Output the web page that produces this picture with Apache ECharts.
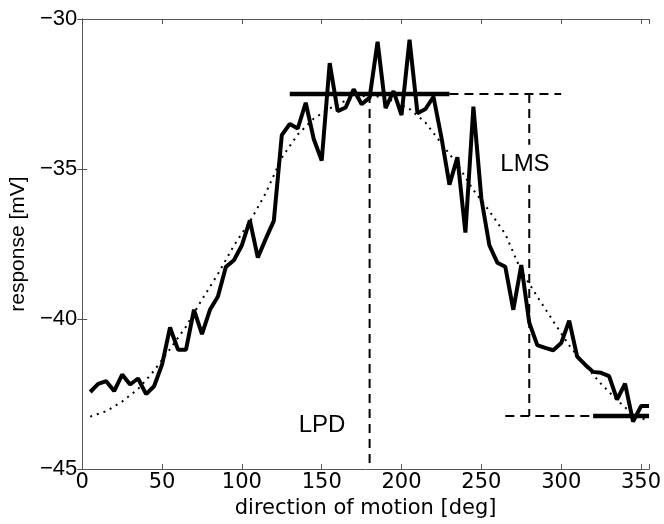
<!DOCTYPE html>
<html>
<head>
<meta charset="utf-8">
<script src="https://cdn.jsdelivr.net/npm/echarts@6/dist/echarts.min.js"></script>
<style>
    html, body {margin: 0; padding: 0; background: #fff;}
    #chart {width: 664px; height: 524px;}
</style>
</head>
<body>
<div id="chart"></div>
<script>
// measured response, one value every 5 deg
var directions = [5,10,15,20,25,30,35,40,45,50,55,60,65,70,75,80,85,90,95,100,
    105,110,115,120,125,130,135,140,145,150,155,160,165,170,175,180,185,190,195,200,
    205,210,215,220,225,230,235,240,245,250,255,260,265,270,275,280,285,290,295,300,
    305,310,315,320,325,330,335,340,345,350,355];
var response = [-42.43,-42.16,-42.07,-42.4,-41.85,-42.18,-41.98,-42.5,-42.24,-41.52,
    -40.28,-41.02,-41.02,-39.69,-40.5,-39.69,-39.25,-38.26,-38.04,-37.54,
    -36.71,-37.95,-37.32,-36.73,-33.87,-33.5,-33.65,-32.79,-34.0,-34.72,
    -31.47,-33.07,-32.95,-32.34,-32.84,-32.62,-30.76,-32.97,-32.4,-33.2,
    -30.69,-33.14,-33.0,-32.59,-33.95,-35.52,-34.61,-37.12,-32.92,-35.99,
    -37.54,-38.12,-38.26,-39.69,-38.2,-40.12,-40.87,-40.96,-41.04,-40.8,
    -40.05,-41.25,-41.52,-41.76,-41.79,-41.9,-42.68,-42.15,-43.42,-42.9,-42.9];

// fitted tuning curve (dotted)
var fitDirections = [5,15,25,35,45,55,65,75,85,95,105,115,125,135,145,155,165,175,180,
    185,195,205,215,225,235,245,255,265,275,285,295,305,315,325,335,345,355];
var fitResponse = [-43.25,-43.07,-42.75,-42.33,-41.72,-41.0,-40.25,-39.35,-38.5,-37.55,
    -36.75,-35.8,-34.62,-33.85,-33.32,-32.98,-32.72,-32.58,-32.55,
    -32.58,-32.73,-33.0,-33.45,-34.15,-34.85,-35.7,-36.4,-37.17,-38.4,-39.25,-40.07,
    -40.88,-41.54,-42.16,-42.7,-43.18,-43.4];

// markers for LPD / LMS
var peakLevel = -32.5, baseLevel = -43.23;
var lpd = 180, lmsX = 280;
var peakBar = [130, 230], peakDash = [230, 300];
var baseDash = [265, 320], baseBar = [320, 355];
var xTicks = [0, 50, 100, 150, 200, 250, 300, 350];
var yTicks = [-45, -40, -35, -30];
var labels = [{name: 'LMS', value: [277.3, -34.86]}, {name: 'LPD', value: [150.2, -43.55]}];

function pairs(xs, ys) {
    return xs.map(function (x, i) { return [x, ys[i]]; });
}
function minus(v) {
    return String(v).replace('-', '\u2212');
}

var font = 'Liberation Sans, Arial, sans-serif';
var wide = 'DejaVu Sans, sans-serif';   // x texts look stretched in the original
var axisCol = '#555';
var dash = [9, 6];

function lineSeries(data, width, type, z) {
    return {
        type: 'line', data: data, showSymbol: false, symbol: 'none', silent: true,
        z: z, lineStyle: {color: '#000', width: width, type: type}
    };
}

var option = {
    animation: false,
    backgroundColor: '#fff',
    grid: {left: 77, right: 12, top: 19, bottom: 52},
    xAxis: [{
        type: 'value', min: 0, max: 355, interval: 50,
        name: 'direction of motion [deg]', nameLocation: 'middle', nameGap: 27,
        nameTextStyle: {color: '#000', fontSize: 21, fontFamily: wide},
        axisLine: {show: true, lineStyle: {color: axisCol, width: 1}},
        axisTick: {show: true, inside: true, length: 5, lineStyle: {color: axisCol}},
        axisLabel: {
            color: '#000', fontSize: 21, fontFamily: wide, margin: 3,
            formatter: function (v) { return xTicks.indexOf(v) >= 0 ? String(v) : ''; }
        },
        splitLine: {show: false}
    }, {
        type: 'value', min: 0, max: 355, interval: 50, position: 'top',
        axisLine: {show: true, lineStyle: {color: axisCol, width: 1}},
        axisTick: {show: true, inside: true, length: 5, lineStyle: {color: axisCol}},
        axisLabel: {show: false}, splitLine: {show: false}
    }],
    yAxis: [{
        type: 'value', min: -45, max: -30, interval: 5,
        name: 'response [mV]', nameLocation: 'middle', nameGap: 46,
        nameTextStyle: {color: '#000', fontSize: 21, fontFamily: font},
        axisLine: {show: true, lineStyle: {color: axisCol, width: 1}},
        axisTick: {show: true, inside: true, length: 5, lineStyle: {color: axisCol}},
        axisLabel: {
            color: '#000', fontSize: 22, fontFamily: font, margin: 5,
            formatter: function (v) { return yTicks.indexOf(v) >= 0 ? minus(v) : ''; }
        },
        splitLine: {show: false}
    }, {
        type: 'value', min: -45, max: -30, interval: 5, position: 'right',
        axisLine: {show: true, lineStyle: {color: axisCol, width: 1}},
        axisTick: {show: true, inside: true, length: 5, lineStyle: {color: axisCol}},
        axisLabel: {show: false}, splitLine: {show: false}
    }],
    series: [
        lineSeries(pairs(fitDirections, fitResponse), 2, [2, 5], 2),
        lineSeries([[peakDash[0], peakLevel], [peakDash[1], peakLevel]], 2, dash, 3),
        lineSeries([[lpd, peakLevel], [lpd, -45]], 2, dash, 3),
        lineSeries([[lmsX, peakLevel], [lmsX, baseLevel]], 2, dash, 3),
        lineSeries([[baseDash[0], baseLevel], [baseDash[1], baseLevel]], 2, dash, 3),
        lineSeries(pairs(directions, response), 4, 'solid', 5),
        lineSeries([[peakBar[0], peakLevel], [peakBar[1], peakLevel]], 4.5, 'solid', 6),
        lineSeries([[baseBar[0], baseLevel], [baseBar[1], baseLevel]], 4.5, 'solid', 6),
        {
            // LMS / LPD captions; scatter would fade them to 0.8 by default
            type: 'scatter', symbolSize: 1, silent: true, z: 8,
            data: labels,
            itemStyle: {opacity: 1, color: '#fff'},
            label: {
                show: true, position: 'inside', formatter: '{b}',
                color: '#000', opacity: 1, fontSize: 24, fontFamily: font,
                backgroundColor: '#fff', padding: [8, 2]
            }
        }
    ]
};

var chart = echarts.init(document.getElementById('chart'));
chart.setOption(option);
</script>
</body>
</html>
